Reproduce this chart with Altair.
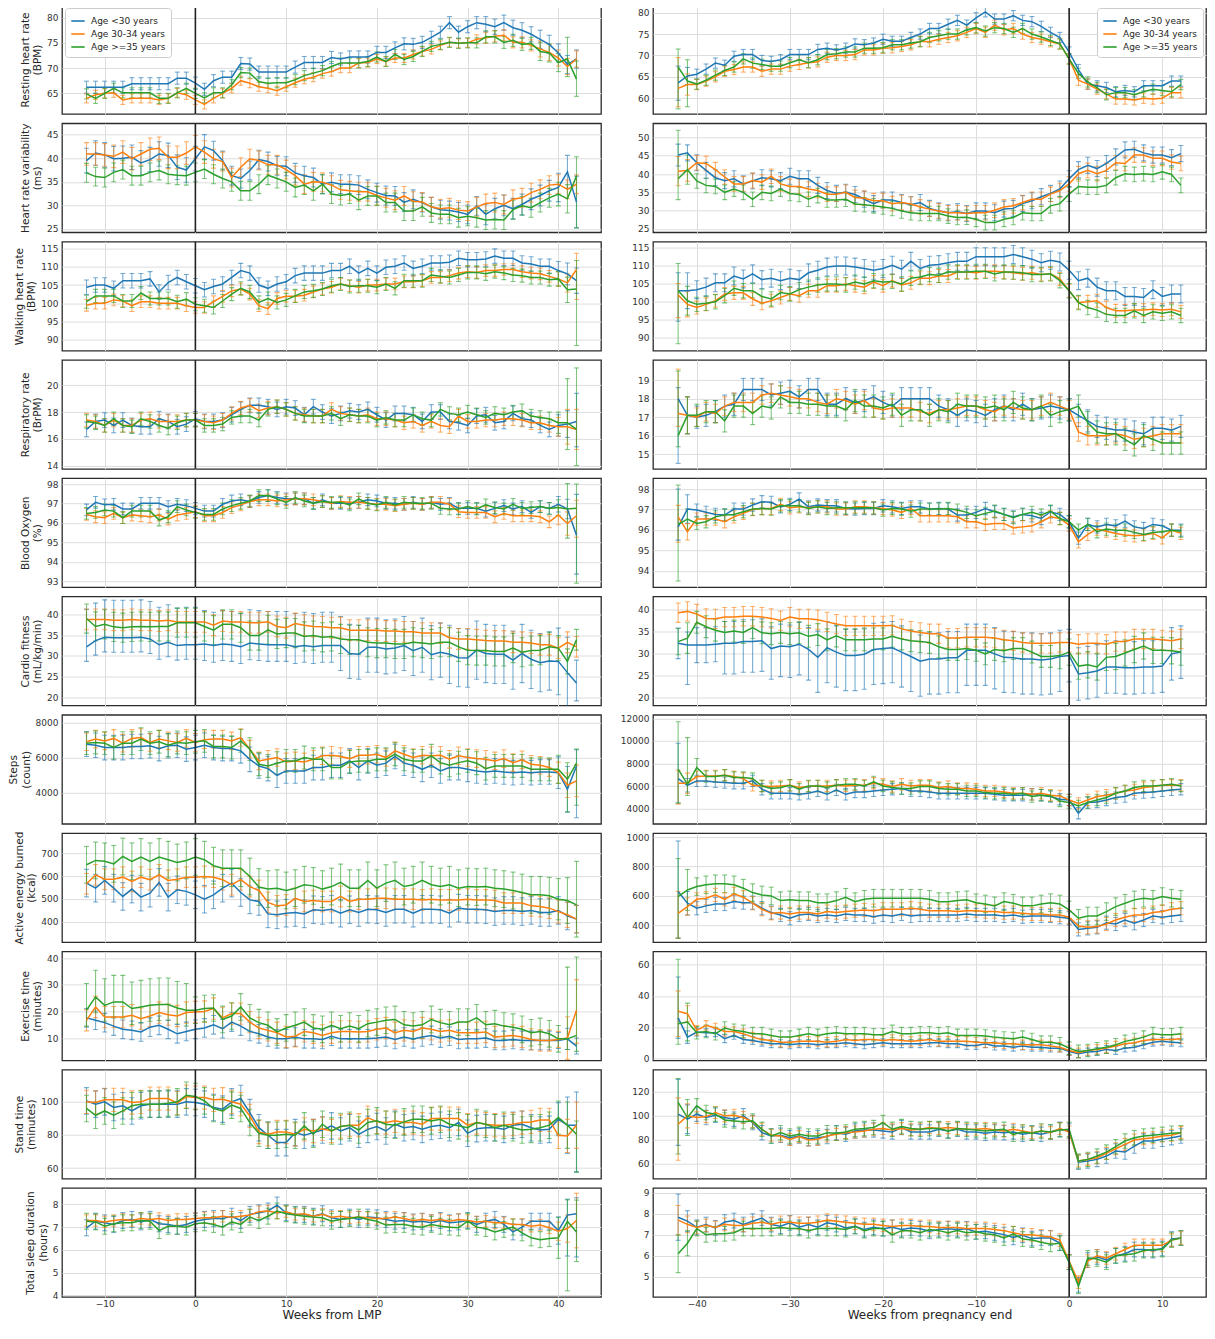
import sys
import altair as alt
import pandas as pd

GROUPS = ["Age <30 years", "Age 30-34 years", "Age >=35 years"]
COLORS = ["#1f77b4", "#ff7f0e", "#2ca02c"]
WEEKS_LMP = list(range(-12, 43))
WEEKS_END = list(range(-42, 13))
XDOM_LMP = [-14.7, 44.7]
XDOM_END = [-44.7, 14.7]
XTICKS_LMP = [-10, 0, 10, 20, 30, 40]
XTICKS_END = [-40, -30, -20, -10, 0, 10]

Y_TITLES = [["Resting heart rate", "(BPM)"], ["Heart rate variability", "(ms)"],
            ["Walking heart rate", "(BPM)"], ["Respiratory rate", "(BrPM)"],
            ["Blood Oxygen", "(%)"], ["Cardio fitness", "(mL/kg/min)"],
            ["Steps", "(count)"], ["Active energy burned", "(kcal)"],
            ["Exercise time", "(minutes)"], ["Stand time", "(minutes)"],
            ["Total sleep duration", "(hours)"]]

Y_TICKS_L = [[65, 70, 75, 80], [25, 30, 35, 40, 45], [90, 95, 100, 105, 110, 115],
             [14, 16, 18, 20], [93, 94, 95, 96, 97, 98], [20, 25, 30, 35, 40],
             [4000, 6000, 8000], [400, 500, 600, 700], [10, 20, 30, 40],
             [60, 80, 100], [4, 5, 6, 7, 8]]
Y_DOM_L = [[60.9, 82.5], [24.3, 47.4], [86.9, 117.0], [13.75, 21.9], [92.7, 98.3],
           [18.1, 44.3], [2226, 8435], [312, 787], [1.6, 42.6], [53.6, 119.4], [3.93, 8.72]]
Y_TICKS_R = [[60, 65, 70, 75, 80], [25, 30, 35, 40, 45, 50], [90, 95, 100, 105, 110, 115],
             [15, 16, 17, 18, 19], [94, 95, 96, 97, 98], [20, 25, 30, 35, 40],
             [4000, 6000, 8000, 10000, 12000], [400, 600, 800, 1000], [0, 20, 40, 60],
             [60, 80, 100, 120], [5, 6, 7, 8, 9]]
Y_DOM_R = [[56.3, 81.8], [24.05, 53.9], [86.3, 116.7], [14.2, 20.1], [93.2, 98.53],
           [18.1, 43.0], [2655, 12320], [283, 1029], [-1.0, 68.3], [47.5, 138.4], [4.04, 9.23]]

# error strings: "e" = symmetric half-width, "lo/hi" = below/above the mean, "*n" = repeated n times

# ---------------- weeks from LMP (-12..42): blue, orange, green ----------------
RHR_L = [
 "66.2 66.2 66.2 66.2 66.2 | 66.9 66.9 66.9 66.9 66.9 | 68 68 67 65.8 67.5 | 68.2 68.2 70.9 70.8 69.2 | 69.2 69.2 69.2 70.2 71.1 | 71.1 71.1 72.1 71.8 72.2 | 72.2 72.2 73.1 73.1 74 | 74.8 74.7 75.1 76.1 77.1 | 79 77.1 78.2 79 78.7 | 78.2 79 78 77.5 76.7 | 75.7 74.7 73 70.7 71.8",
 "64 64.7 65 65.1 63.7 | 64 64 64 63.7 64 | 65.1 64.7 63.7 62.8 64 | 65 66 67.5 67 66.3 | 66 65.5 66.3 67.1 67.8 | 68.2 68.9 69.3 70 70 | 71 71.1 71.8 71.3 72 | 72 72.7 73.3 73.7 74.5 | 75.1 74.9 75 75.7 76 | 76.3 76.5 75.1 75.1 74.5 | 73.8 73.1 72 70.3 71.8",
 "64.9 64 65 66 65.1 | 65.1 65.1 65.1 64 64 | 65.1 66 65 64.1 65.1 | 65.1 66.7 69.1 69 67.3 | 67 67.1 67.1 67.7 68.5 | 69 69.5 70.3 71 71 | 71 71.3 72.2 71.3 72.7 | 71.7 72.3 73.3 74.3 74.7 | 75.1 74.9 75 75 76.2 | 76.2 75.1 75.5 74.7 74.9 | 73.3 73 71.1 71.8 67.8"]
RHR_L_ERR = ["1.2*44 1.5*6 1.8*5", "0.9*44 1.1*6 1.6*5", "1.0*44 1.2*6 1.8*3 3.5/4.3 3.4/3.6"]

HRV_L = [
 "39.5 41.1 40.7 39.9 40 | 40.2 39 39.7 40.9 40.6 | 38.1 37.5 39.9 42.4 41.6 | 39.5 36.3 35.7 37.4 39.7 | 39.3 38.4 38.3 36.9 36.3 | 35.9 34.5 34.9 34.5 34.5 | 34.3 33.4 32.7 32.1 32 | 30.7 31.3 30.6 29.7 29.1 | 28.9 28.6 28.1 29.9 28.1 | 29.3 30 29.3 30.2 31.3 | 32.1 33.1 33.8 37.1 30.7",
 "40.9 40.9 40.7 40.4 41.3 | 39.9 40.9 41.9 42.1 40.2 | 40.2 41.1 42.4 41.3 39.9 | 39.3 35.9 38.1 39.9 39.5 | 38.6 38.6 37.6 36.3 34.5 | 35 34.9 34.3 33.3 33.1 | 32.9 32.9 32.1 31.6 31.1 | 32 30.9 30.7 29.7 29.3 | 29.5 29 28.8 29.7 30.4 | 30.6 30.2 31.3 31.6 32.7 | 33.4 34.3 34.5 33.4 34.5",
 "36.9 36.1 35.9 37 37.6 | 36.3 36.3 37 37.4 36.6 | 36.4 36.3 37 37.7 36.6 | 35.7 35 33.1 33.1 34.5 | 36.4 35.7 35 33.8 34.3 | 33.1 34.5 32.4 32.1 32.4 | 31.1 32 32 30.6 30.6 | 28.8 28.8 29.7 28.4 28.1 | 28.1 27.4 27.7 27.4 26.9 | 27 26.9 29.1 29.9 29.5 | 30.6 31.6 32.4 31.4 36.3"]
HRV_L_ERR = ["2.6*14 2*30 2.2*8 3 3.5 5.5", "2.4*14 2*41", "2*52 2.5 3 11/4"]

WHR_L = [
 "104.4 105 105 104.1 106.2 | 106.2 106.2 106.7 103.1 105.7 | 107.1 105.9 104.8 103.7 104.6 | 105.3 107.1 109 108.3 105 | 104.1 105.3 105.9 107.6 108.3 | 108.3 108.3 109 109 110.2 | 108.3 109.6 108.3 109.9 110.2 | 111.1 109.6 110.2 111.1 111.1 | 111.3 112.4 112 112 112.2 | 113 112.4 112.4 111.1 110.8 | 110.2 110.2 109 108.1 106.2",
 "99.4 100 100 100.9 100.6 | 99.3 100.4 100.4 100 100 | 100 99.3 98.8 98.8 100.4 | 101.9 103.4 103.9 102.5 99.3 | 98.5 101.3 101.9 101.9 102.2 | 103.1 103.9 104.4 105.3 104.8 | 104.4 105 105 105.3 105.3 | 105.9 105.9 106.2 107.1 107.1 | 107.6 108.3 108.7 108.5 109 | 109 109.3 109.3 108.7 108.3 | 108.1 107.4 106.7 105.6 109.3",
 "100.4 102 102 102 100.6 | 100.6 102.8 101.3 101.3 101.3 | 100.4 101.1 99.7 99.3 98.8 | 100.6 102.5 104.1 103.1 100.2 | 101.3 100.2 100.9 102 103.1 | 103.4 103.9 104.8 105.3 104.6 | 104.8 104.8 104.4 105.3 104.1 | 106.2 106.2 106.2 107.8 107.4 | 107.1 107.8 108.5 108.5 108.1 | 108.7 108.3 107.8 107.6 107.1 | 107.1 106.5 106.7 103.7 103.9"]
WHR_L_ERR = ["2*52 2.5 3 3.5", "1.6*52 2 2.5 8.3/4.5", "1.8*52 2 3.5 15.6/7.9"]

RR_L = [
 "16.7 17.3 17.4 17 17.4 | 17 16.9 16.9 17.5 17.3 | 16.9 17.1 17.5 17.3 17.3 | 17.4 17.8 18.2 18.5 18.5 | 18.4 18.2 18.4 18.3 17.8 | 18.4 18 17.7 17.9 18.1 | 18 18.2 17.8 17.4 17.9 | 17.9 17.8 17.3 18 18 | 17.3 17.2 17 17.7 17.8 | 17.2 17.3 17.9 17.5 17.4 | 17 16.7 17 17.1 17.3",
 "17.4 17.3 17 17.4 17 | 17 17.4 17.5 17.3 17.3 | 17.3 17.4 17.4 17.3 17.2 | 17.4 17.9 18.3 18.5 18.1 | 18.3 18.4 18.2 17.9 17.8 | 17.7 17.7 18.2 17.9 17.8 | 17.7 17.8 17.5 17.5 17.4 | 17.2 17.3 17 17.3 17 | 16.9 17.7 17.3 17.3 17.4 | 17.4 17.5 17.5 17.4 17.2 | 17.2 17 16.9 16.9 16.7",
 "17.3 17.2 17 17.5 17 | 16.9 17.5 17.3 17 16.8 | 17.2 17.4 17.4 17 17 | 17.1 17.6 17.7 17.7 17.4 | 18.2 18.4 18.2 17.9 17.7 | 17.7 17.7 17.9 17.5 17.8 | 17.7 17.7 17.4 17.6 17.4 | 17.4 17.8 17.5 17.4 18.2 | 17.9 17.8 18 17.8 17.6 | 17.9 17.8 18 18.1 17.7 | 17.6 17.5 17.2 17.2 16.7"]
RR_L_ERR = ["0.55*52 0.8 1 1.9/2.1", "0.5*52 0.7 1.3 1.5", "0.5*52 0.8 2/3.3 2.7/4.6"]

BO_L = [
 "96.67 97.06 96.93 96.96 96.72 | 96.72 97.01 97.01 97.01 96.84 | 96.96 96.89 96.75 96.61 96.61 | 96.96 97.13 97.19 97.1 97.31 | 97.41 97.31 97.24 97.24 97.24 | 97.01 97.19 97.01 97.01 97.01 | 97.06 97.19 97.13 97.01 97.01 | 96.96 97.06 96.96 97.06 96.96 | 97.01 96.75 96.75 96.75 96.61 | 96.75 96.89 96.72 96.84 96.54 | 96.84 96.75 96.96 96.72 95.37",
 "96.44 96.32 96.27 96.49 96.27 | 96.41 96.37 96.32 96.41 96.2 | 96.41 96.49 96.58 96.37 96.37 | 96.54 96.79 96.93 97.1 97.19 | 97.19 97.13 97.19 97.24 97.24 | 97.19 97.1 97.01 97.1 97.06 | 97.06 97.01 96.96 96.96 96.89 | 96.96 97.01 96.96 97.06 97.06 | 96.96 96.58 96.54 96.54 96.54 | 96.32 96.49 96.37 96.37 96.37 | 96.32 96.06 96.41 95.97 96.37",
 "96.49 96.54 96.67 96.61 96.27 | 96.61 96.61 96.61 96.15 96.32 | 96.84 96.67 96.54 96.44 96.44 | 96.72 96.89 97.01 97.13 97.41 | 97.41 97.24 97.06 97.31 97.13 | 97.01 97.1 97.06 97.06 96.93 | 97.24 97.01 96.93 97.06 96.93 | 97.06 97.01 97.01 97.01 96.75 | 96.72 96.72 96.84 96.72 96.93 | 96.79 96.72 96.96 96.75 96.79 | 96.84 96.75 96.79 96.72 96.75"]
BO_L_ERR = ["0.3*52 0.4 0.5 2/2.1", "0.3*52 0.5 0.6 1.1/0.8", "0.3*52 0.4 1.5/1.3 3.85/1.25"]

CF_L = [
 "32.2 33.7 34.5 34.4 34.4 | 34.4 34.5 34.1 32.7 33.3 | 32.5 32.7 32.7 32.9 32.5 | 32.9 32.7 32.2 33.1 32.9 | 32.7 32.7 32.7 32.2 32.5 | 32.2 32.5 32.5 32.5 30.6 | 30.4 32.1 32.1 31.7 31.9 | 32.5 31.3 32.1 30.3 30.9 | 30.4 29.6 29.5 31.4 30.6 | 30.4 30.4 29 30.6 29.2 | 28.4 28.8 28.7 26 23.5",
 "38.8 38.8 38.8 38.6 38.6 | 38.8 38.6 38.6 38.4 38.6 | 38.2 38.2 38.2 38.2 37.4 | 38.4 38.2 38.2 38 38 | 38.2 37.1 36.8 37.8 37.4 | 37.1 37 36.8 36.8 36.2 | 36.2 36.2 36.2 36 36 | 35.8 35.8 35.5 35.5 35.5 | 34.4 34.1 34.1 33.9 33.7 | 33.6 33.6 33.3 33.3 33.1 | 32.7 32.7 31.9 33.3 32.2",
 "39 37.1 37.6 37 36.8 | 37 37.1 37 37.1 37.1 | 38 38 38 37.1 36.2 | 37.6 37.6 36.8 34.9 34.9 | 36.3 35.3 35.5 35.5 34.7 | 34.9 34.5 34.7 34.1 33.9 | 33.9 33.3 33.1 33.1 32.9 | 32.9 33.3 33.1 32.9 33.3 | 33.3 32.2 31.4 31.3 31.3 | 31.1 31.1 31.9 30.9 31.3 | 31.4 32.2 31.9 28.7 33.9"]
CF_L_ERR = ["3.5/9*13 4/8*15 6/7*12 7*12 8 8.5 4.3/5.5", "2.5*55", "3.5*52 3 3 2.5"]

ST_L = [
 "6760 6700 6570 6570 6570 | 6630 6630 6670 6510 6670 | 6700 6480 6570 6700 6570 | 6510 6510 6380 5900 5520 | 5370 4990 5240 5240 5240 | 5430 5430 5560 5560 5810 | 5430 5810 5560 5680 6060 | 5680 5560 5330 5560 5240 | 5430 5430 5330 5240 5180 | 5240 5180 5140 5180 5140 | 5180 5180 5140 4190 5520",
 "6900 7050 6950 7090 6820 | 7090 7140 6860 7050 6950 | 6860 7090 6860 7010 7050 | 7050 6950 7140 6480 5810 | 5900 6000 5750 5810 5750 | 5900 6100 6130 6060 5940 | 6130 6130 6190 6000 6380 | 6190 6000 6130 6100 6130 | 5900 6100 6000 5940 5900 | 5810 5940 5710 5870 5620 | 5560 5430 5140 4420 4670",
 "6820 6860 6820 6570 6820 | 6820 7050 6820 6900 6700 | 6860 6820 6900 6950 6630 | 6630 6570 6950 6480 5620 | 5520 5680 5810 5810 6000 | 5900 5900 5430 5430 5750 | 5810 5810 5900 5900 6190 | 5900 5810 5810 6100 5710 | 5560 5710 5810 5680 5370 | 5520 5520 5520 5520 5330 | 5330 5330 5330 4760 5680"]
ST_L_ERR = ["700*52 900 1300 2950/920", "500*52 600 700 900", "650*52 800 1860/940 2400/800"]

AE_L = [
 "569 547 581 547 511 | 543 508 525 572 508 | 540 533 518 499 518 | 547 569 528 496 489 | 435 431 438 441 435 | 453 450 455 438 453 | 441 455 453 441 455 | 455 438 455 455 453 | 438 460 455 455 453 | 445 450 450 445 450 | 441 441 450 426 412",
 "566 605 586 586 595 | 576 595 584 605 581 | 586 595 595 598 595 | 584 562 584 554 537 | 485 470 474 503 489 | 493 489 489 511 489 | 499 499 503 503 499 | 499 499 496 499 496 | 496 496 499 496 496 | 493 482 482 482 470 | 467 460 445 431 412",
 "649 668 664 653 685 | 664 683 664 683 671 | 659 668 683 671 645 | 634 634 634 598 552 | 543 547 537 547 562 | 557 543 554 572 547 | 547 581 547 569 581 | 554 562 581 562 554 | 562 547 554 552 554 | 547 543 537 528 518 | 518 514 499 493 474"]
AE_L_ERR = ["60*55", "45*52 50 55 60", "80*52 90 100 140/190"]

EX_L = [
 "17.6 16.7 15.8 14.5 13.3 | 12.9 12.3 14.1 14.8 13.3 | 11.6 12.5 13.3 13.8 15 | 13.5 16 14.5 12.5 11.6 | 10.4 9.7 9.7 10.4 9.7 | 9.7 9.5 10.7 9.7 9.7 | 9.7 9.7 10 10.4 9.5 | 10.4 9.7 10.4 11 10 | 10.7 9.5 9.7 9.7 10 | 9.1 9.1 9.5 9.1 9.1 | 9.1 9.1 9.1 9.7 7",
 "16.7 21.7 17.9 17.9 17.9 | 18.6 17.3 18.3 19.6 18.8 | 18.3 19.6 19.8 20 21.1 | 17.6 19.2 19.2 16 13.8 | 12.9 12 10.4 10.7 12.5 | 12 11 12 12.5 12.5 | 12.3 12.5 13.3 13.8 12 | 12.9 12.5 13.8 13.3 12.5 | 12.9 12 12 12 12.3 | 10.4 10.7 11 10.4 9.5 | 9.1 9.1 9.5 10 20.5",
 "20.5 25.5 22.3 23.6 23.6 | 21.1 21.7 22.3 22.6 22.6 | 21.3 20.5 20.5 21.1 21.3 | 17 18.3 21.7 17.6 15.8 | 14.8 12.3 13.8 14.8 16 | 13.8 13.3 14.8 13.5 14.5 | 13.5 15.4 16 16.7 17 | 15 14.5 15 17 15.8 | 15 16 16 17.6 15 | 15.4 14.5 14.1 13.3 12 | 12.5 11.6 9.7 9.7 11"]
EX_L_ERR = ["3.5*52 3 4 3", "4*52 3 8 12.5/11.5", "6/10*12 5*40 5 4/27 6/29.5"]

SD_L = [
 "100.6 98.6 100 96.6 97.6 | 94.5 97.6 98.6 98.6 98.6 | 98.6 100 99.6 98.6 96.6 | 95.6 100 102 93.5 84.4 | 79.8 75.4 75.4 81.4 79.8 | 81.4 83 85.5 82.4 84.4 | 80.4 83.4 85.1 82.4 86.5 | 84.4 85.1 83.4 85.1 85.9 | 84.4 87.5 81 83.8 84.4 | 84.4 83.4 85.9 86.5 84.4 | 83 83.4 89.5 85.9 85.9",
 "100 99.6 101.2 101.2 101.2 | 99.6 100 102 102 102 | 99.2 103.2 102.6 102.6 101.2 | 101.6 100 98.6 91.5 81.8 | 80.4 81.8 81.8 80.4 83.4 | 82.4 83.8 82.4 85.1 85.9 | 85.9 90.5 87.9 87.5 88.5 | 87.5 87.5 86.5 89.9 89.9 | 89.9 89.9 85.9 87.5 86.5 | 85.9 85.9 86.5 87.5 87.9 | 89.1 89.1 79.8 79.4 85.9",
 "96 91.9 94.5 91.9 94.5 | 97.6 98.6 98.6 98.6 99.2 | 100 104 103.2 100.6 96 | 94.5 98 96 87.5 81 | 79.8 79.8 80.4 79.8 85.5 | 80.4 86.5 82.4 85.1 85.9 | 83 87.5 88.5 86.5 85.9 | 87.9 89.5 89.5 88.5 89.5 | 86.5 85.5 84.4 87.5 86.5 | 84.4 85.9 84.4 83 83.4 | 84.4 85.9 90.5 85.9 80.4"]
SD_L_ERR = ["8*52 10 17 28/20", "7*52 8 10 14", "8*52 10 14 23/8"]

SL_L = [
 "6.97 7.26 7.19 7.12 7.29 | 7.34 7.23 7.34 7.15 7.12 | 7.04 7.12 7.26 7.34 7.38 | 7.38 7.48 7.29 7.56 7.63 | 7.71 7.97 7.63 7.56 7.56 | 7.48 7.59 7.41 7.34 7.44 | 7.34 7.44 7.41 7.34 7.26 | 7.29 7.23 7.26 7.19 7.29 | 7.19 7.23 7.29 7.12 7.26 | 7.34 7.12 6.79 7 7.26 | 7.26 7.26 6.85 7.53 7.59",
 "7.29 7.29 7.23 7.29 7.34 | 7.29 7.38 7.34 7.38 7.29 | 7.34 7.34 7.38 7.41 7.41 | 7.48 7.44 7.48 7.53 7.68 | 7.71 7.63 7.68 7.56 7.59 | 7.48 7.56 7.44 7.48 7.41 | 7.44 7.41 7.38 7.38 7.44 | 7.38 7.29 7.34 7.29 7.34 | 7.26 7.34 7.29 7.23 7.26 | 7.19 7.19 7.12 7.12 7.04 | 7.09 6.97 6.82 6.94 7.29",
 "7.26 7.23 7.04 7.15 7.19 | 7.19 7.29 7.26 6.85 7.04 | 7.04 7 7.15 7.19 7.12 | 7 7.23 7.12 7.44 7.29 | 7.48 7.71 7.59 7.53 7.48 | 7.44 7.41 7.26 7.34 7.38 | 7.44 7.34 7.26 7.09 7.12 | 7.12 7.04 7 7.12 7.04 | 7 6.97 7.26 7 6.94 | 6.79 6.9 7 6.75 6.53 | 6.45 6.5 6.53 7.26 6.79"]
SL_L_ERR = ["0.35*52 0.6 1.8/0.7 1.9/0.7", "0.25*52 0.4 0.6 1.2", "0.35*52 0.9 3.06/0.94 1.3/1.4"]

# ---------------- weeks from pregnancy end (-42..12): blue, orange, green ----------------
RHR_R = [
 "63.6 65.2 65.6 66.8 68.2 | 67.7 69.8 70.2 70.2 68.8 | 68.6 69 70.2 70.2 70.2 | 71.4 71.7 71.3 71.7 72.7 | 72.5 72.9 73.8 73.3 73.3 | 74.2 75 76.3 76.3 77.3 | 78.2 77.1 78.8 80.2 78.5 | 78.5 79.3 78.2 77.9 76.8 | 75.4 74.2 70.8 66.7 63.3 | 62.9 62.5 61.5 61.8 61.5 | 62.9 62.9 62.9 64 64",
 "62.3 63.2 63.2 64 65 | 66.3 66.7 67.3 67.3 66.3 | 66.8 66.8 67.5 67.9 68.3 | 68.5 69.6 70 70 70.2 | 71.3 71.3 71.7 71.8 72.1 | 72.5 73.3 73.2 73.8 74.2 | 74.6 75.4 76.3 75.4 77.1 | 76 76.3 75 74.2 73.8 | 73.2 72.7 69.2 64.2 63.3 | 62.1 61 59.8 59.8 59.6 | 60 59.8 60 61.3 61.3",
 "67.3 64 63.3 64.2 65.4 | 66.5 67.3 69.2 68.2 67.9 | 67.5 67.5 68.3 69 68.3 | 69 70.2 70.4 70.8 70.8 | 71.7 71.7 71.8 72.5 72.5 | 72.9 73.2 74.2 74.6 75 | 75 76 76.5 75.7 76.5 | 76.3 75.4 76.3 75 74.3 | 73.5 72.7 69.2 65.8 63.8 | 62.5 60.8 61.3 61.3 60.8 | 61.5 62.1 61.8 61.5 63.2"]
RHR_R_ERR = ["4.1/3.9 2 1.2*53", "4.3/7.2 2.5 1.2*53", "9.8/4.2 6/5 1.2*53"]

HRV_R = [
 "45.2 45.8 43.1 41 39 | 38.2 38.7 37.3 38.1 39 | 38.7 38.2 39.4 38.7 38.7 | 36.9 35.5 34.7 35 34.4 | 33.1 31.9 32.9 32.9 32.2 | 31.6 32.2 30.6 29.9 29.4 | 29.7 29.2 29.9 29.9 29.4 | 30.4 30.6 31.9 32.7 33.8 | 34.7 35.9 38.7 41.2 42.4 | 41.5 42.9 44.7 46.6 46.8 | 45.8 45.2 45.2 44.5 45.6",
 "40.8 41 43.1 42.9 41.2 | 39.2 37.3 37.3 38.2 37.8 | 39.4 37.3 36.6 36.6 35.9 | 35.5 34.5 34.5 35 33.6 | 33.4 32.7 32.7 31.9 32.2 | 31.8 31 30.4 29.9 29.4 | 29.4 29.2 29.4 29.4 30.1 | 31 31.3 32.2 33.1 33.1 | 34.5 35.5 37.3 40.1 41 | 40.1 41 43.1 42.9 45.2 | 45.2 44.3 44.3 43.3 42.9",
 "38.7 41.2 38.1 36.9 36.6 | 35 35.9 35 33.1 35 | 34.7 35.9 34.7 34.4 33.1 | 34.1 32.9 32.9 33.1 31.8 | 31.6 31.3 31 30.6 29.9 | 29.4 29.2 29.2 29.2 28.5 | 28.1 28.2 27.6 26.7 26.7 | 27.6 28.1 29.4 29.2 29.2 | 31.3 31.9 34.5 36.6 36.4 | 36.4 36.9 39 40.1 39.9 | 40.1 39.9 40.6 39.9 36.9"]
HRV_R_ERR = ["3 2.2*54", "4 3 2*53", "5.7/13.3 4 2*53"]

WHR_R = [
 "103 103 103.3 104 105.2 | 105.2 107.1 106.3 107.7 106.1 | 106.5 105.8 106.5 106.1 108 | 108.7 109.6 109.9 109.9 109.6 | 109.2 108.7 109.2 110.1 109 | 111.2 109.2 110.1 110.3 110.8 | 111.2 111.2 112.5 112.5 112.5 | 112.5 113.1 112.5 111.8 110.8 | 111.5 111 108.7 105.8 106.5 | 104 103 103 101.4 101.4 | 101.1 103.3 101.4 102.1 102.1",
 "101.8 99.2 98.3 99.2 100.2 | 102.1 102.4 102.4 100.7 99.5 | 100.2 101.1 102.1 101.6 103 | 103 104.4 104.4 104.9 104.4 | 104 105.4 104.4 105.8 104.6 | 105.2 106.5 106.5 107.1 107.1 | 108.2 108.2 108 108.4 108.4 | 108.2 108 107.7 108 107.5 | 107.7 106.3 103 99.7 99.9 | 100.2 98.3 97.4 97.4 97.6 | 97.6 97.8 97.6 97.8 97.1",
 "103 100.2 99.2 99.5 99.9 | 101.6 103.7 103 103 101.4 | 100.7 102.5 102.1 103.3 104 | 104.6 104.9 104.9 104.6 105.4 | 104.9 105.8 105.4 105.6 104.9 | 106.5 106.8 107.5 107.3 108.2 | 108.2 108.2 108.4 108.4 107.7 | 108.2 108.2 108 107.5 107.5 | 107.7 105.8 103 99.7 98.3 | 97.6 96.4 96.1 96.1 97.4 | 96.1 97.1 96.7 97.1 96.1"]
WHR_R_ERR = ["8.5/5 5 2.5*53", "6.3/3.2 3.5 1.8*53", "14.8/7.6 4 2*53"]

RR_R = [
 "18 17.1 17 17.1 17.3 | 17.6 17.7 18.5 18.5 18.5 | 18.2 18.3 18.4 18.1 18.5 | 18.5 17.7 17.7 18 17.8 | 17.9 18.1 17.8 17.6 18 | 18 18 18 17.6 17.4 | 17.1 17.4 17.3 17.1 17.4 | 17.6 17.4 17.7 17.4 17.5 | 17.6 17.5 17.4 17.1 16.8 | 16.5 16.4 16.3 16.3 16.2 | 16.1 16.4 16.4 16.3 16.5",
 "17.2 17.1 17 17.3 17.2 | 17.6 17.8 17.8 17.8 18.2 | 18.3 18.2 18.1 18 18 | 17.8 17.7 18 17.9 17.7 | 17.9 17.5 17.4 17.5 17.5 | 17.5 17.3 17.2 17.4 17.4 | 17.5 17.6 17.6 17.4 17.3 | 17.6 17.5 17.4 17.4 17.6 | 17.8 17.6 17.4 16.2 16 | 16 16 16.1 16 15.8 | 15.9 16 16.1 16.1 16.1",
 "16 17.1 17.1 17.3 17.3 | 16.8 17.6 17.6 17.2 17.6 | 17.5 18.1 17.8 17.8 17.7 | 17.7 17.6 17.6 17.4 17.9 | 17.6 17.6 17.5 17.7 17.1 | 17.4 17.4 17.1 17.4 17.3 | 17.7 17.6 17.6 17.5 17.6 | 17.4 17.8 17.5 17.4 17.6 | 17.1 17.3 17.4 17.6 16.7 | 16.2 16.1 16.1 15.8 15.5 | 16 15.8 15.6 15.6 15.6"]
RR_R_ERR = ["3.5/0.6 1 0.6*53", "0.7/2.4 1 0.5*53", "0.6/3.5 1 0.6*53"]

BO_R = [
 "96.15 97.02 96.97 96.86 96.76 | 96.73 97.02 97.02 97.22 97.38 | 97.35 97.13 97.25 97.51 97.13 | 97.22 97.18 97.18 97.05 97.02 | 97.05 97.05 97.18 97.13 97.05 | 97.13 97.13 97.02 97.05 97.02 | 96.73 96.73 96.86 97.05 96.89 | 96.76 96.64 96.76 96.69 96.56 | 96.89 96.76 96.4 95.6 96.27 | 96.15 96.27 96.2 96.43 96.15 | 96.07 96.27 96.2 95.99 95.99",
 "96.64 95.91 96.53 96.53 96.53 | 96.4 96.64 96.81 97 97.05 | 97.05 97.25 97.08 97.13 97.08 | 97.13 97.13 97.02 97.02 97.13 | 97.13 97.08 97.05 96.97 96.86 | 97.05 96.69 96.69 96.69 96.69 | 96.64 96.4 96.4 96.27 96.32 | 96.32 96.1 96.15 96.2 96.4 | 96.64 96.56 96.24 95.42 95.78 | 96.04 95.94 95.83 95.75 95.71 | 95.75 95.83 95.61 95.99 95.83",
 "96.27 96.53 96.32 96.4 96.64 | 96.73 96.76 96.89 97.02 97.05 | 97.02 97.18 97.18 97.18 97.05 | 97.13 97.05 97.08 97.08 97.08 | 97.08 97.08 96.97 97.05 97.02 | 96.92 97.02 97.02 97.02 97.05 | 96.97 96.86 96.69 96.81 96.92 | 96.76 96.6 96.76 96.86 96.73 | 96.92 96.56 96.4 95.99 96.27 | 95.91 96.04 95.99 95.99 95.88 | 95.78 95.88 95.91 95.99 95.94"]
BO_R_ERR = ["0.65/1.85 0.7 0.3*53", "1.24/0.56 0.4 0.3*53", "2.77/1.93 0.5 0.3*53"]

CF_R = [
 "32.3 31.9 31.9 31.9 32.1 | 32.3 32.3 32.7 32.7 32.9 | 31.1 31.7 31.5 32.1 30.9 | 29.1 31.3 30.3 29.5 29.5 | 29.8 30.9 31.1 31.3 30.3 | 29.3 28.2 28.7 28.7 29 | 29 30.7 30.7 30.7 29.9 | 29.1 29 28.7 28.7 28.5 | 28.7 29.3 29.5 25.3 25.6 | 26 26.9 26.9 26.7 26.7 | 26.9 26.9 27.1 29.9 30.3",
 "39.3 39.6 39 38 37.9 | 38.3 38.3 38.5 38.5 38.3 | 38 37.5 38.3 37.9 37.9 | 37.7 37.2 36.7 36.3 36.3 | 36.3 36.3 36.3 36.4 35.6 | 35.1 34.8 34.5 34.5 33.5 | 33.5 33.7 33.7 33.7 33.5 | 33.1 32.9 32.5 32.3 32.3 | 32.3 32.5 32.5 32.1 32.3 | 32.3 32.1 32.7 32.7 33.3 | 33.3 33.3 33.1 32.9 33.3",
 "32.7 33.5 37.1 36.1 35.3 | 34.8 35.1 34.8 35.9 34.7 | 34.5 34.8 34.5 34.7 33.9 | 34.3 33.1 34 33.1 33.1 | 33.1 33.3 33.3 33.9 33.3 | 32.9 32.7 32.5 31.5 30.9 | 30.9 31.1 30.7 29.9 30.9 | 30.6 31.1 31.1 30.3 29.3 | 29.3 29.5 30.3 27.1 27.4 | 26.9 29.1 29.3 30.1 30.9 | 31.7 30.7 30.7 30.6 30.3"]
CF_R_ERR = ["3.5 9/3 4*3 7/5*10 8/6*20 8/6*7 6*13", "2.2*55", "3 3.5 2.5*39 3*14"]

ST_R = [
 "6670 6070 6460 6460 6370 | 6310 6250 6250 6460 5720 | 5360 5360 5360 5270 5360 | 5570 5270 5660 5270 5480 | 5480 5570 5660 5720 5780 | 5570 5570 5480 5360 5360 | 5360 5360 5360 5360 5270 | 5190 5190 5190 5270 5190 | 5070 4830 4770 3590 4540 | 4590 4770 4980 5070 5360 | 5420 5480 5570 5660 5720",
 "6250 6250 6840 6900 6900 | 6960 6840 6670 6070 6010 | 5960 6010 6070 5870 5960 | 6010 6010 6070 6010 6070 | 6070 6250 6160 5960 6160 | 6010 6070 6070 5870 5960 | 5780 5780 5720 5570 5570 | 5480 5360 5360 5270 5360 | 5190 5130 4770 4470 4770 | 5070 5190 5360 5570 5660 | 5870 5960 6070 6070 6070",
 "7500 6160 7640 6840 6840 | 6960 6760 6760 6670 6010 | 5780 5870 6070 5720 6010 | 6010 5870 6070 6160 6160 | 6010 6370 6010 5870 5780 | 5780 5960 5960 5780 5720 | 5720 5570 5570 5420 5360 | 5360 5270 5360 5070 5190 | 5130 4680 4540 4240 4540 | 4770 4980 5360 5570 5870 | 6010 6010 6070 6160 6010"]
ST_R_ERR = ["2170/3130 600 500*53", "1850/1150 900 500*53", "3000/4200 1000/4140 800 500*52"]

AE_R = [
 "629 549 515 531 544 | 544 560 553 553 515 | 485 469 446 469 476 | 462 469 462 476 469 | 469 457 469 462 476 | 462 469 469 469 469 | 469 476 469 469 469 | 462 469 457 462 462 | 462 453 446 370 377 | 384 416 407 434 412 | 434 462 453 462 469",
 "480 526 576 583 606 | 576 613 590 549 508 | 480 485 476 485 485 | 476 492 485 492 498 | 503 498 508 508 508 | 515 508 498 498 498 | 492 498 498 492 492 | 485 485 480 476 476 | 469 469 453 393 384 | 389 407 434 453 469 | 469 485 492 508 515",
 "595 640 663 675 682 | 682 675 652 622 606 | 599 567 572 567 567 | 553 553 567 590 560 | 576 583 583 583 583 | 583 583 576 560 560 | 567 572 553 544 531 | 560 549 531 531 544 | 553 544 503 446 462 | 462 492 526 549 572 | 583 576 595 583 576"]
AE_R_ERR = ["319/346 80 45*53", "170/150 60 45*53", "285/260 140 60*53"]

EX_R = [
 "26 13.8 17 16.6 16.6 | 12.8 14.9 12.3 11.7 10.6 | 9.6 9.6 8.9 9.6 9.6 | 8.9 9.6 9.6 10.2 9.6 | 8.9 9.6 10.2 9.6 9.6 | 9.6 9.6 10.2 10.2 9.6 | 9.6 8.5 8.5 9.6 8.1 | 8.1 7.4 8.1 7.4 7.4 | 6.8 6.8 4.7 3.2 4.3 | 4.7 6 5.3 6.8 7.4 | 8.9 10.6 11.1 10.6 10.2",
 "30.2 28.7 18.1 21.3 19.6 | 17.4 17.4 16 13.8 12.3 | 11.7 10.6 10.6 11.1 11.1 | 11.1 10.6 11.1 12.3 11.7 | 12.3 12.3 11.7 12.3 11.7 | 11.1 11.7 12.3 11.1 11.1 | 11.1 11.1 10.6 10.2 10.2 | 9.6 9.6 8.9 8.9 8.9 | 8.1 7.4 5.3 3.8 5.3 | 6 6.8 8.1 9.6 10.2 | 11.7 12.3 12.3 12.3 12.8",
 "22.3 23.4 16.6 17.4 16 | 19.6 18.1 17.4 16 16 | 14.9 13.8 13.8 14.9 16 | 14.9 16 16.6 16 16 | 16 15.3 15.3 17.4 16 | 16 16.6 16.6 16 16.6 | 14.9 14.9 14.9 14.5 13.8 | 13.2 12.8 13.8 12.3 10.6 | 10.6 9.6 6.8 4.7 5.3 | 6.4 7.4 8.9 11.1 12.3 | 13.8 16 15.3 15.3 16"]
EX_R_ERR = ["13/26 4 2.5*53", "16/13 5 3*53", "13/41 12 4*53"]

SD_R = [
 "101.3 97.1 101.3 98.5 100.4 | 98.5 97.1 99.9 94.3 85.9 | 83.1 83.7 81.7 83.1 80.9 | 81.7 82.6 85.9 84.5 87.3 | 88.2 88.2 87.3 86.5 90.1 | 86.5 86.5 86.5 88.7 87.3 | 88.7 86.5 86.5 85.4 86.5 | 85.9 86.5 84.5 85.9 84.5 | 86.5 88.7 87.3 61.3 62.2 | 63.6 66.4 70.6 69.7 74.7 | 78.9 78.9 80.3 81.7 83.1",
 "92.9 99.9 98.5 99.3 102.7 | 99.9 100.4 98.5 94.9 88.7 | 83.7 83.1 80.3 82.6 79.8 | 80.3 83.1 84.5 85.9 86.5 | 87.3 88.7 89.3 88.2 89.3 | 88.2 88.7 90.1 89.3 90.1 | 89.3 88.7 88.7 89.3 88.2 | 87.3 88.7 87.3 85.9 87.3 | 85.9 89.3 86.5 62.2 63.6 | 65 68.6 72.5 76.1 79.8 | 80.9 81.7 83.1 83.7 85.9",
 "111.1 98.5 108.3 102.7 101.3 | 96.5 95.7 94.9 95.7 88.7 | 83.1 85.9 83.1 84.5 83.1 | 83.1 85.9 85.4 86.5 88.7 | 89.3 90.1 94.3 88.7 91 | 89.3 88.7 89.3 89.3 87.3 | 89.3 88.7 88.2 87.3 88.2 | 88.7 84.5 86.5 85.4 87.3 | 86.5 88.2 88.7 62.2 63.6 | 66.4 69.7 74.2 78.9 81.7 | 83.1 83.7 84.5 85.4 85.9"]
SD_R_ERR = ["26/29 12 6*53", "30/22 10 5*53", "43/20 15 6*53"]

SL_R = [
 "7.84 7.65 7.36 7.49 7.33 | 7.61 7.68 7.49 7.65 7.8 | 7.49 7.41 7.57 7.36 7.49 | 7.36 7.57 7.49 7.33 7.41 | 7.25 7.36 7.29 7.36 7.25 | 7.33 7.29 7.17 7.25 7.29 | 7.25 7.29 7.14 7.17 7.09 | 7.01 6.88 6.98 6.82 6.85 | 6.85 6.61 5.7 4.62 5.8 | 5.95 5.8 6 6.1 6.3 | 6.3 6.25 6.35 6.8 6.85",
 "7.7 7.5 7.35 7.45 7.35 | 7.5 7.45 7.45 7.55 7.6 | 7.5 7.6 7.6 7.55 7.55 | 7.6 7.7 7.65 7.6 7.55 | 7.5 7.5 7.45 7.4 7.45 | 7.45 7.4 7.4 7.35 7.35 | 7.35 7.3 7.3 7.3 7.25 | 7.2 7.1 7.0 7.0 6.95 | 6.9 6.75 5.75 4.75 5.75 | 6 5.9 6.1 6.3 6.5 | 6.5 6.5 6.5 6.75 6.85",
 "6.1 6.6 7.3 7 7.05 | 7.05 7.1 7.3 7.3 7.3 | 7.3 7.35 7.3 7.3 7.2 | 7.3 7.3 7.3 7.25 7.4 | 7.2 7.3 7.3 7 7.2 | 7.2 7.1 7.25 7.2 7.1 | 7.2 7.1 7.15 7.05 7 | 6.85 7.05 6.8 6.75 6.65 | 6.55 6.6 5.7 4.55 5.9 | 5.85 5.7 6 6.05 6.1 | 6.25 6.3 6.3 6.75 6.85"]
SL_R_ERR = ["1.1 0.5 0.35*53", "0.7 0.4 0.3*53", "0.9 0.6 0.35*53"]

LEFT = [(RHR_L, RHR_L_ERR), (HRV_L, HRV_L_ERR), (WHR_L, WHR_L_ERR), (RR_L, RR_L_ERR),
        (BO_L, BO_L_ERR), (CF_L, CF_L_ERR), (ST_L, ST_L_ERR), (AE_L, AE_L_ERR),
        (EX_L, EX_L_ERR), (SD_L, SD_L_ERR), (SL_L, SL_L_ERR)]
RIGHT = [(RHR_R, RHR_R_ERR), (HRV_R, HRV_R_ERR), (WHR_R, WHR_R_ERR), (RR_R, RR_R_ERR),
         (BO_R, BO_R_ERR), (CF_R, CF_R_ERR), (ST_R, ST_R_ERR), (AE_R, AE_R_ERR),
         (EX_R, EX_R_ERR), (SD_R, SD_R_ERR), (SL_R, SL_R_ERR)]


def fit(out, n, s):
    if len(out) != n:
        print("length mismatch", len(out), s[:40], file=sys.stderr)
        out = (out + [out[-1]] * n)[:n]
    return out


def means_of(s, n=55):
    return fit([float(t) for t in s.replace("|", " ").split()], n, s)


def errs_of(s, n=55):
    out = []
    for tok in s.split():
        k = 1
        if "*" in tok:
            tok, kk = tok.split("*")
            k = int(kk)
        if "/" in tok:
            a, b = tok.split("/")
            pair = (float(a), float(b))
        else:
            pair = (float(tok), float(tok))
        out += [pair] * k
    return fit(out, n, s)


MINUS = "replace(datum.label, '-', '\u2212')"


def panel(weeks, means, errs, ydom, yticks, xdom, xticks, width, height, ytitle, legend, bottom, xtitle):
    rows = []
    for g, m, e in zip(GROUPS, means, errs):
        mv, ev = means_of(m), errs_of(e)
        for w, v, (elo, ehi) in zip(weeks, mv, ev):
            rows.append({"week": w, "val": v, "lo": v - elo, "hi": v + ehi, "grp": g})
    df = pd.DataFrame(rows)
    xscale = alt.Scale(domain=xdom, nice=False, zero=False)
    yscale = alt.Scale(domain=ydom, nice=False, zero=False)
    if bottom:
        xaxis = alt.Axis(values=xticks, title=xtitle, labels=True, format="d", labelExpr=MINUS)
    else:
        xaxis = alt.Axis(values=xticks, title=None, labels=False)
    if ytitle is not None:
        yaxis = alt.Axis(values=yticks, title=ytitle, format="d")
    else:
        yaxis = alt.Axis(values=yticks, title=None, format="d")
    if legend is not None:
        color = alt.Color("grp:N", scale=alt.Scale(domain=GROUPS, range=COLORS), legend=legend)
    else:
        color = alt.Color("grp:N", scale=alt.Scale(domain=GROUPS, range=COLORS), legend=None)
    X = alt.X("week:Q", scale=xscale, axis=xaxis)
    base = alt.Chart(df)
    bars = base.mark_rule(strokeWidth=1.1, opacity=0.6, clip=True).encode(
        x=X, y=alt.Y("lo:Q", scale=yscale, axis=yaxis), y2="hi:Q", color=color)
    cap_lo = base.mark_tick(orient="horizontal", size=5, thickness=1.1, opacity=0.6, clip=True).encode(
        x=X, y=alt.Y("lo:Q", scale=yscale, axis=yaxis), color=color)
    cap_hi = base.mark_tick(orient="horizontal", size=5, thickness=1.1, opacity=0.6, clip=True).encode(
        x=X, y=alt.Y("hi:Q", scale=yscale, axis=yaxis), color=color)
    line = base.mark_line(strokeWidth=1.5, clip=True).encode(
        x=X, y=alt.Y("val:Q", scale=yscale, axis=yaxis), color=color)
    vline = alt.Chart(pd.DataFrame({"week": [0]})).mark_rule(color="#222222", strokeWidth=1.6).encode(x=X)
    return alt.layer(bars, cap_lo, cap_hi, line, vline).properties(width=width, height=height)


def make_legend(orient):
    return alt.Legend(orient=orient, title=None, symbolType="stroke", symbolStrokeWidth=1.6,
                      symbolSize=180, symbolOpacity=1, labelFontSize=9, labelFont="DejaVu Sans",
                      labelColor="#262626", fillColor="white", strokeColor="#cccccc",
                      padding=5, cornerRadius=3, offset=3, rowPadding=0, labelOffset=5)


PANEL_H = 109
W_LEFT = 539
W_RIGHT = 553
panels = []
for i in range(11):
    last = (i == 10)
    lm, le = LEFT[i]
    rm, re_ = RIGHT[i]
    panels.append(panel(WEEKS_LMP, lm, le, Y_DOM_L[i], Y_TICKS_L[i], XDOM_LMP, XTICKS_LMP, W_LEFT, PANEL_H,
                        Y_TITLES[i], make_legend("top-left") if i == 0 else None, last, "Weeks from LMP"))
    panels.append(panel(WEEKS_END, rm, re_, Y_DOM_R[i], Y_TICKS_R[i], XDOM_END, XTICKS_END, W_RIGHT, PANEL_H,
                        None, make_legend("top-right") if i == 0 else None, last, "Weeks from pregnancy end"))

chart = alt.concat(*panels, columns=2, spacing={"row": 9.3, "column": 52}, bounds="flush", align="each",
                   padding={"left": -1, "top": -5, "right": 0, "bottom": 0})
chart = chart.resolve_scale(color="independent")
chart = chart.configure_view(stroke="#2b2b2b", strokeWidth=1.3).configure_axis(
    grid=True, gridColor="#dddddd", gridWidth=1, domain=False, ticks=False,
    labelFont="DejaVu Sans", labelFontSize=9, labelColor="#333333", labelPadding=4,
    titleFont="DejaVu Sans", titleFontSize=10.5, titleFontWeight="normal", titleColor="#262626",
    titlePadding=4).configure_axisX(titleFontSize=12, titlePadding=1, labelPadding=2)

chart.save("out.html", embed_options={"renderer": "svg", "actions": False})
